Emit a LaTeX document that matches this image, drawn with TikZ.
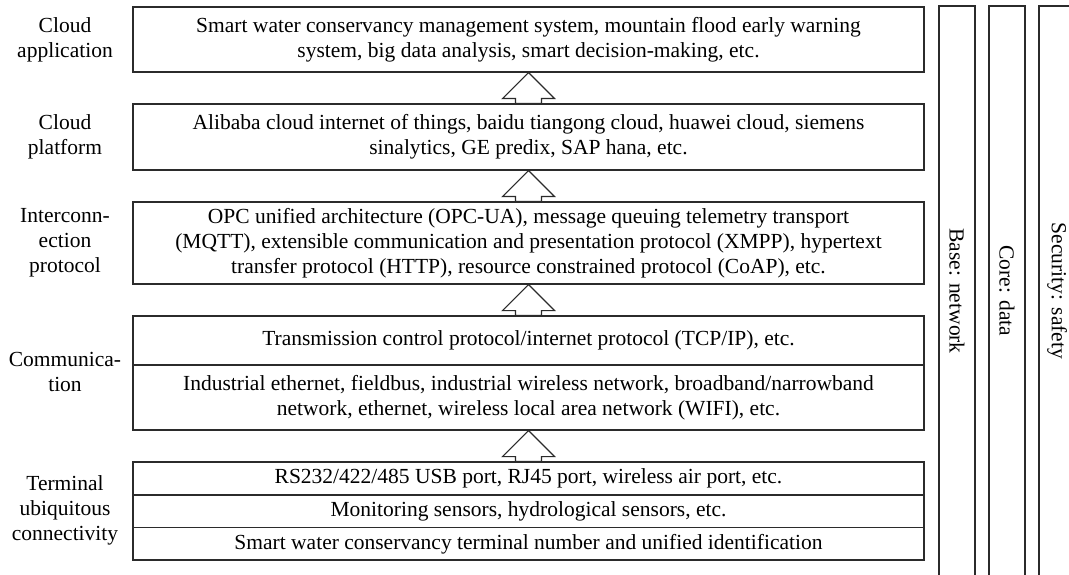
\documentclass[tikz,border=0pt]{standalone}
\usepackage{fontspec}
\setmainfont{Liberation Serif}
\usetikzlibrary{calc}
\definecolor{edge}{HTML}{2B2B2B}
\tikzset{
  txt/.style={font=\fontsize{21.5}{25}\selectfont, align=center, inner sep=0pt},
  layer/.style={txt, draw=edge, line width=1.2pt, fill=white, minimum width=791pt},
  side/.style={txt},
  band/.style={txt, draw=edge, line width=1.2pt, rotate=-90, minimum width=570pt, minimum height=36pt},
  fat/.style={draw=edge, line width=1.2pt, fill=white, line join=miter},
}
\newcommand\fatup[2]{%
  \path let \p1=(#1.south), \p2=(#2.north) in
    [fat] (\p1) -- (\x1+26pt,\y1-26pt) -- (\x1+13pt,\y1-26pt) -- (\x1+13pt,\y2)
      -- (\x1-13pt,\y2) -- (\x1-13pt,\y1-26pt) -- (\x1-26pt,\y1-26pt) -- cycle;}
\begin{document}
\begin{tikzpicture}[x=1pt,y=-1pt]
\useasboundingbox (0,0) rectangle (1069,575);

% layer boxes
\node[layer, minimum height=65pt] (app) at (528.5,39.5)
  {Smart water conservancy management system, mountain flood early warning\\
   system, big data analysis, smart decision-making, etc.};
\node[layer, minimum height=66pt] (plat) at (528.5,137)
  {Alibaba cloud internet of things, baidu tiangong cloud, huawei cloud, siemens\\
   sinalytics, GE predix, SAP hana, etc.};
\node[layer, minimum height=82pt] (proto) at (528.5,243)
  {OPC unified architecture (OPC-UA), message queuing telemetry transport\\
   (MQTT), extensible communication and presentation protocol (XMPP), hypertext\\
   transfer protocol (HTTP), resource constrained protocol (CoAP), etc.};
\node[layer, minimum height=49pt] (tcp) at (528.5,340.5)
  {Transmission control protocol/internet protocol (TCP/IP), etc.};
\node[layer, minimum height=65pt] (net) at (528.5,397.5)
  {Industrial ethernet, fieldbus, industrial wireless network, broadband/narrowband\\
   network, ethernet, wireless local area network (WIFI), etc.};
\node[layer, minimum height=33pt] (port) at (528.5,478.5)
  {RS232/422/485 USB port, RJ45 port, wireless air port, etc.};
\node[layer, minimum height=32.5pt] (sens) at (528.5,511.25)
  {Monitoring sensors, hydrological sensors, etc.};
\node[layer, minimum height=32.5pt] (ident) at (528.5,543.75)
  {Smart water conservancy terminal number and unified identification};

% layer names
\node[side] (lapp) at (65,39.5) {Cloud\\application};
\node[side] (lplat) at (65,137) {Cloud\\platform};
\node[side] (lproto) at (65,243) {Interconn-\\ection\\protocol};
\node[side] (lcomm) at (65,372) {Communica-\\tion};
\node[side] (lterm) at (65,510) {Terminal\\ubiquitous\\connectivity};

% hollow arrows between layers
\fatup{app}{plat}
\fatup{plat}{proto}
\fatup{proto}{tcp}
\fatup{net}{port}

% vertical bands
\node[band] (base) at (957,291) {Base: network};
\node[band] (core) at (1007,291) {Core: data};
\node[band] (safe) at (1057,291) {Security: safety};
\end{tikzpicture}
\end{document}
